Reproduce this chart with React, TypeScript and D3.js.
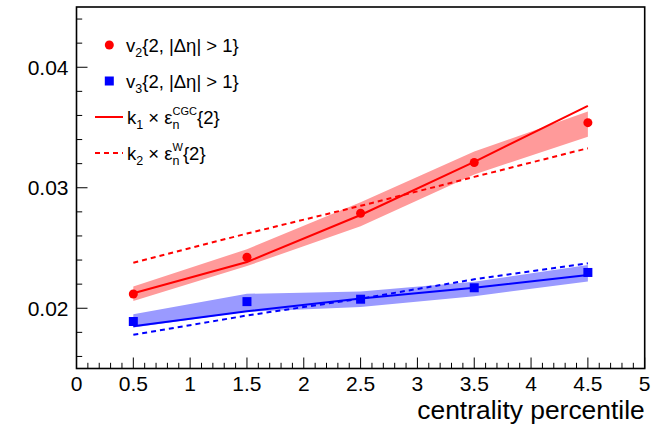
import React, { useEffect, useRef } from "react";
import * as d3 from "d3";

// Centrality bins
const centrality = [0.5, 1.5, 2.5, 3.5, 4.5];

// Measured flow harmonics
const v2 = [0.02118, 0.02423, 0.02788, 0.0321, 0.0354];
const v3 = [0.0189, 0.02055, 0.02075, 0.0217, 0.02297];

// Model: k1 x eps_n^CGC{2} (solid) and k2 x eps_n^W{2} (dashed)
const v2CGC = [0.02124, 0.02384, 0.02774, 0.03215, 0.0368];
const v2W = [0.02378, 0.0262, 0.0285, 0.0309, 0.03328];
const v3CGC = [0.0185, 0.01975, 0.0208, 0.0217, 0.02276];
const v3W = [0.0178, 0.0194, 0.0208, 0.0224, 0.02373];

// Uncertainty bands
const v2BandLow = [0.0206, 0.0235, 0.0268, 0.0311, 0.03424];
const v2BandHigh = [0.0218, 0.0249, 0.0288, 0.033, 0.03632];
const v3BandLow = [0.0184, 0.0197, 0.0201, 0.021, 0.02221];
const v3BandHigh = [0.0195, 0.0212, 0.0214, 0.0222, 0.02359];

// Axis ticks
const xTicks = [0, 0.5, 1, 1.5, 2, 2.5, 3, 3.5, 4, 4.5, 5];
const xTickLabels = ["0", "0.5", "1", "1.5", "2", "2.5", "3", "3.5", "4", "4.5", "5"];
const yTicks = [0.02, 0.03, 0.04];
const yTickLabels = ["0.02", "0.03", "0.04"];

const xTitle = "centrality percentile";

const W = 657;
const H = 426;
const FONT = "'Liberation Sans', Arial, Helvetica, sans-serif";
const RED = "#ff0000";
const BLUE = "#0000ff";
const RED_BAND = "#ff9a9a";
const BLUE_BAND = "#9a9aff";

type Piece = { t: string; size: number; dy: number; stack?: boolean };

export default function App() {
  const ref = useRef<SVGSVGElement | null>(null);

  useEffect(() => {
    const svg = d3.select(ref.current);
    svg.selectAll("*").remove();

    const left = 76.5, right = 644.7, top = 7, bottom = 368.5;
    const x = d3.scaleLinear().domain([0, 5]).range([left, right]);
    const y = d3.scaleLinear().domain([0.015, 0.045]).range([bottom, top]);

    const idx = d3.range(centrality.length);

    // Bands
    const band = (lo: number[], hi: number[], color: string) => {
      const area = d3
        .area<number>()
        .x((i) => x(centrality[i]))
        .y0((i) => y(lo[i]))
        .y1((i) => y(hi[i]));
      svg.append("path").attr("d", area(idx)).attr("fill", color).attr("stroke", "none");
    };
    band(v2BandLow, v2BandHigh, RED_BAND);
    band(v3BandLow, v3BandHigh, BLUE_BAND);

    // Model curves
    const curve = (vals: number[], color: string, dashed: boolean) => {
      const line = d3
        .line<number>()
        .x((i) => x(centrality[i]))
        .y((i) => y(vals[i]));
      svg
        .append("path")
        .attr("d", line(idx))
        .attr("fill", "none")
        .attr("stroke", color)
        .attr("stroke-width", 2)
        .attr("stroke-dasharray", dashed ? "5,4" : null);
    };
    curve(v2CGC, RED, false);
    curve(v2W, RED, true);
    curve(v3CGC, BLUE, false);
    curve(v3W, BLUE, true);

    // Data markers
    svg
      .append("g")
      .selectAll("circle")
      .data(idx)
      .join("circle")
      .attr("cx", (i) => x(centrality[i]))
      .attr("cy", (i) => y(v2[i]))
      .attr("r", 4.5)
      .attr("fill", RED);
    svg
      .append("g")
      .selectAll("rect")
      .data(idx)
      .join("rect")
      .attr("x", (i) => x(centrality[i]) - 4.5)
      .attr("y", (i) => y(v3[i]) - 4.5)
      .attr("width", 9)
      .attr("height", 9)
      .attr("fill", BLUE);

    // Frame
    svg
      .append("rect")
      .attr("x", left)
      .attr("y", top)
      .attr("width", right - left)
      .attr("height", bottom - top)
      .attr("fill", "none")
      .attr("stroke", "#000")
      .attr("stroke-width", 1.6);

    // X ticks
    const xMinor = d3.range(0, 5.0001, 0.1);
    svg
      .append("g")
      .selectAll("line")
      .data(xMinor)
      .join("line")
      .attr("x1", (d) => x(d))
      .attr("x2", (d) => x(d))
      .attr("y1", bottom)
      .attr("y2", (d) => {
        const isMajor = Math.abs(d * 2 - Math.round(d * 2)) < 1e-6;
        return bottom - (isMajor ? 11 : 5.7);
      })
      .attr("stroke", "#000")
      .attr("stroke-width", 1);

    // Y ticks
    const yMinor = d3.range(0.016, 0.0449, 0.002);
    svg
      .append("g")
      .selectAll("line")
      .data(yMinor)
      .join("line")
      .attr("y1", (d) => y(d))
      .attr("y2", (d) => y(d))
      .attr("x1", left)
      .attr("x2", (d) => {
        const isMajor = Math.abs(d * 100 - Math.round(d * 100)) < 1e-6;
        return left + (isMajor ? 11 : 5.7);
      })
      .attr("stroke", "#000")
      .attr("stroke-width", 1);

    // Tick labels
    svg
      .append("g")
      .selectAll("text")
      .data(xTicks)
      .join("text")
      .attr("x", (d) => x(d))
      .attr("y", 391)
      .attr("text-anchor", "middle")
      .attr("font-family", FONT)
      .attr("font-size", 21)
      .text((_, i) => xTickLabels[i]);
    svg
      .append("g")
      .selectAll("text")
      .data(yTicks)
      .join("text")
      .attr("x", 68.5)
      .attr("y", (d) => y(d) + 7.5)
      .attr("text-anchor", "end")
      .attr("font-family", FONT)
      .attr("font-size", 21)
      .text((_, i) => yTickLabels[i]);

    // Axis title
    svg
      .append("text")
      .attr("x", right)
      .attr("y", 419)
      .attr("text-anchor", "end")
      .attr("font-family", FONT)
      .attr("font-size", 26.4)
      .text(xTitle);

    // Legend
    const lg = svg.append("g");
    const rich = (x0: number, yb: number, pieces: Piece[]) => {
      let cx = x0;
      let prevStart = x0;
      let prevW = 0;
      for (const p of pieces) {
        const sx = p.stack ? prevStart : cx;
        const node = lg
          .append("text")
          .attr("x", sx)
          .attr("y", yb + p.dy)
          .attr("font-family", FONT)
          .attr("font-size", p.size)
          .style("white-space", "pre")
          .text(p.t)
          .node() as SVGTextElement;
        const w = node.getComputedTextLength();
        if (p.stack) {
          cx = prevStart + Math.max(prevW, w);
        } else {
          prevStart = sx;
          prevW = w;
          cx = sx + w;
        }
      }
    };
    const fs = 18.5, ss = 12.5, sup = 11;
    const rows = [45, 81, 117, 153];
    const tx = 126;

    lg.append("circle").attr("cx", 109.3).attr("cy", rows[0]).attr("r", 4.5).attr("fill", RED);
    rich(tx, rows[0] + 6.5, [
      { t: "v", size: fs, dy: 0 },
      { t: "2", size: ss, dy: 5 },
      { t: "{2, |Δη| > 1}", size: fs, dy: 0 },
    ]);

    lg.append("rect").attr("x", 109.3 - 4.5).attr("y", rows[1] - 4.5).attr("width", 9).attr("height", 9).attr("fill", BLUE);
    rich(tx, rows[1] + 6.5, [
      { t: "v", size: fs, dy: 0 },
      { t: "3", size: ss, dy: 5 },
      { t: "{2, |Δη| > 1}", size: fs, dy: 0 },
    ]);

    lg.append("line").attr("x1", 95).attr("x2", 123).attr("y1", rows[2]).attr("y2", rows[2]).attr("stroke", RED).attr("stroke-width", 2);
    rich(tx + 1, rows[2] + 6.5, [
      { t: "k", size: fs, dy: 0 },
      { t: "1", size: ss, dy: 5 },
      { t: " × ε", size: fs, dy: 0 },
      { t: "n", size: ss, dy: 5 },
      { t: "CGC", size: sup, dy: -9, stack: true },
      { t: "{2}", size: fs, dy: 0 },
    ]);

    lg.append("line").attr("x1", 95).attr("x2", 123).attr("y1", rows[3]).attr("y2", rows[3]).attr("stroke", RED).attr("stroke-width", 2).attr("stroke-dasharray", "5,4");
    rich(tx + 1, rows[3] + 6.5, [
      { t: "k", size: fs, dy: 0 },
      { t: "2", size: ss, dy: 5 },
      { t: " × ε", size: fs, dy: 0 },
      { t: "n", size: ss, dy: 5 },
      { t: "W", size: sup, dy: -9, stack: true },
      { t: "{2}", size: fs, dy: 0 },
    ]);
  }, []);

  return (
    <svg
      ref={ref}
      width={W}
      height={H}
      style={{ position: "absolute", left: 0, top: 0, background: "#fff" }}
    />
  );
}
